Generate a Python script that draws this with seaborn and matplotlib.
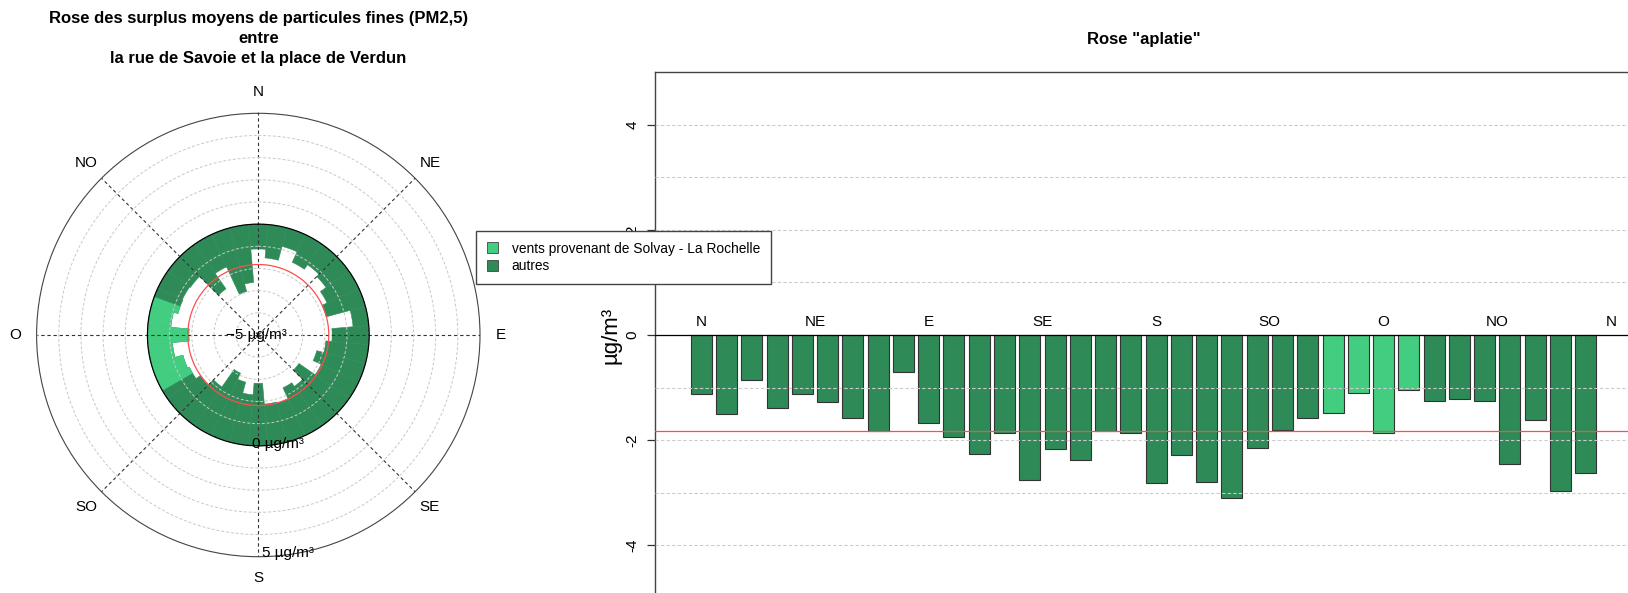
import numpy as np
import pandas as pd
import matplotlib
matplotlib.use("Agg")
import matplotlib.pyplot as plt
from matplotlib.patches import Patch
import seaborn as sns

# wind sectors of 10 degrees, from the north, clockwise
directions = list(range(0, 360, 10))
surplus = [-1.12, -1.51, -0.86, -1.38, -1.13, -1.27, -1.58, -1.83, -0.71, -1.67,
           -1.94, -2.27, -1.87, -2.76, -2.17, -2.37, -1.82, -1.87, -2.82, -2.29,
           -2.80, -3.10, -2.14, -1.81, -1.57, -1.48, -1.11, -1.87, -1.04, -1.25,
           -1.22, -1.26, -2.46, -1.61, -2.97, -2.62]
group = ["autres"] * 25 + ["solvay"] * 4 + ["autres"] * 7
mean_surplus = -1.82
solvay_sector = (240, 290)

compass = ["N", "NE", "E", "SE", "S", "SO", "O", "NO", "N"]
compass_deg = [0, 45, 90, 135, 180, 225, 270, 315, 360]
ring_values = [-5, 0, 5]
ring_labels = ["\u22125 µg/m³", "0 µg/m³", "5 µg/m³"]

title_lines = ["Rose des surplus moyens de particules fines (PM2,5)",
               "entre",
               "la rue de Savoie et la place de Verdun"]
legend_labels = {"solvay": "vents provenant de Solvay - La Rochelle",
                 "autres": "autres"}
palette = {"solvay": "#43CD80", "autres": "#2E8B57"}

sns.set_style("white")
plt.rcParams["font.family"] = ["Liberation Sans", "DejaVu Sans"]
plt.rcParams["text.color"] = "black"
plt.rcParams["axes.labelcolor"] = "black"
plt.rcParams["ytick.color"] = "black"
plt.rcParams["xtick.color"] = "black"

W, H = 1628, 593
fig = plt.figure(figsize=(W / 100, H / 100), dpi=100)

# ---------------- rose (polar) ----------------
cx, cy, R = 258.3, 335.0, 221.7
ax_rose = fig.add_axes([(cx - R) / W, (H - cy - R) / H, 2 * R / W, 2 * R / H],
                       projection="polar")
ax_rose.set_theta_zero_location("N")
ax_rose.set_theta_direction(-1)

theta = np.deg2rad(directions)
vals = np.array(surplus)
ax_rose.bar(theta, -vals, bottom=vals, width=np.deg2rad(10),
            color=palette["autres"], edgecolor=palette["autres"], linewidth=0.4)

# part of the rose facing Solvay
lo_s, hi_s = solvay_sector
for d, v in zip(directions, surplus):
    lo = max(d - 5, lo_s)
    hi = min(d + 5, hi_s)
    if hi > lo:
        ax_rose.bar(np.deg2rad((lo + hi) / 2), -v, bottom=v,
                    width=np.deg2rad(hi - lo), color=palette["solvay"],
                    edgecolor=palette["solvay"], linewidth=0.4)

circ = np.linspace(0, 2 * np.pi, 400)
ax_rose.plot(circ, np.zeros_like(circ), color="black", lw=0.9, zorder=3)
ax_rose.plot(circ, np.full_like(circ, mean_surplus), color="#ff4d4d", lw=0.9, zorder=3)

ax_rose.set_rlim(-5, 5)
ax_rose.set_rgrids(np.arange(-4, 5), labels=[""] * 9)
ax_rose.set_thetagrids(compass_deg[:8], labels=[""] * 8)
ax_rose.yaxis.grid(True, color="#c8c8c8", linestyle=(0, (3, 2)), linewidth=0.7)
ax_rose.xaxis.grid(True, color="#333333", linestyle=(0, (3, 2.5)), linewidth=0.8)
ax_rose.set_axisbelow(False)
ax_rose.spines["polar"].set_color("#444444")
ax_rose.spines["polar"].set_linewidth(0.8)
ax_rose.tick_params(length=0)

for d, lab in zip(compass_deg[:8], compass[:8]):
    ax_rose.text(np.deg2rad(d), 5.95, lab, ha="center", va="center", fontsize=11)

ring_offsets = [(-1.4, 0), (14.4, 1.4), (21.6, 2.9)]
for v, lab, off in zip(ring_values, ring_labels, ring_offsets):
    ax_rose.annotate(lab, xy=(np.pi, v), xytext=off, textcoords="offset points",
                     ha="center", va="center", fontsize=11, zorder=4)

for line, ypx in zip(title_lines, [18.7, 38.4, 58.0]):
    fig.text(cx / W, 1 - ypx / H, line, ha="center", va="center",
             fontsize=12, fontweight="bold")

# ---------------- flattened rose (bars) ----------------
left, right, top, bottom = 654.5, 1632.5, 72.0, 598.0
ax_bar = fig.add_axes([left / W, (H - bottom) / H, (right - left) / W, (bottom - top) / H])

df = pd.DataFrame({"pos": range(len(surplus)), "surplus": surplus, "group": group})
sns.barplot(data=df, x="pos", y="surplus", hue="group", palette=palette,
            dodge=False, width=0.833, saturation=1, errorbar=None,
            edgecolor="#333333", linewidth=0.8, legend=False, ax=ax_bar)

ax_bar.set_xlim(-1.85, 36.85)
ax_bar.set_ylim(-5, 5)
ax_bar.set_xticks([])
ax_bar.set_xlabel("")
ax_bar.set_yticks([-4, -2, 0, 2, 4])
ax_bar.set_yticklabels(["-4", "-2", "0", "2", "4"], rotation=90, va="center")
ax_bar.set_yticks(np.arange(-4, 5), minor=True)
ax_bar.tick_params(axis="y", which="major", length=6, width=0.9, pad=5,
                   labelsize=11, left=True, color="#333333")
ax_bar.tick_params(axis="y", which="minor", length=0)
ax_bar.grid(True, axis="y", which="both", color="#cccccc",
            linestyle=(0, (3, 2)), linewidth=0.8)
ax_bar.set_axisbelow(False)
ax_bar.axhline(0, color="black", lw=0.9, zorder=3)
ax_bar.axhline(mean_surplus, color="#ff4d4d", lw=0.9, zorder=3)
ax_bar.set_ylabel("µg/m³", fontsize=16, labelpad=3)
for sp in ax_bar.spines.values():
    sp.set_color("#444444")
    sp.set_linewidth(1.0)

for d, lab in zip(compass_deg, compass):
    ax_bar.text(d / 10, 0.25, lab, ha="center", va="center", fontsize=11)

fig.text((left + right) / 2 / W, 1 - 39.5 / H, 'Rose "aplatie"',
         ha="center", va="center", fontsize=12, fontweight="bold")

handles = [Patch(facecolor=palette[k], edgecolor="#444444", linewidth=0.6)
           for k in ["solvay", "autres"]]
fig.legend(handles, [legend_labels[k] for k in ["solvay", "autres"]],
           loc="upper left", bbox_to_anchor=(476.0 / W, 1 - 230.5 / H),
           fontsize=9.9, frameon=True, fancybox=False, edgecolor="#444444",
           framealpha=1, handlelength=0.8, handleheight=0.8,
           handletextpad=1.0, labelspacing=0.28, borderpad=0.8, borderaxespad=0)

fig.savefig("out.png", dpi=100)
